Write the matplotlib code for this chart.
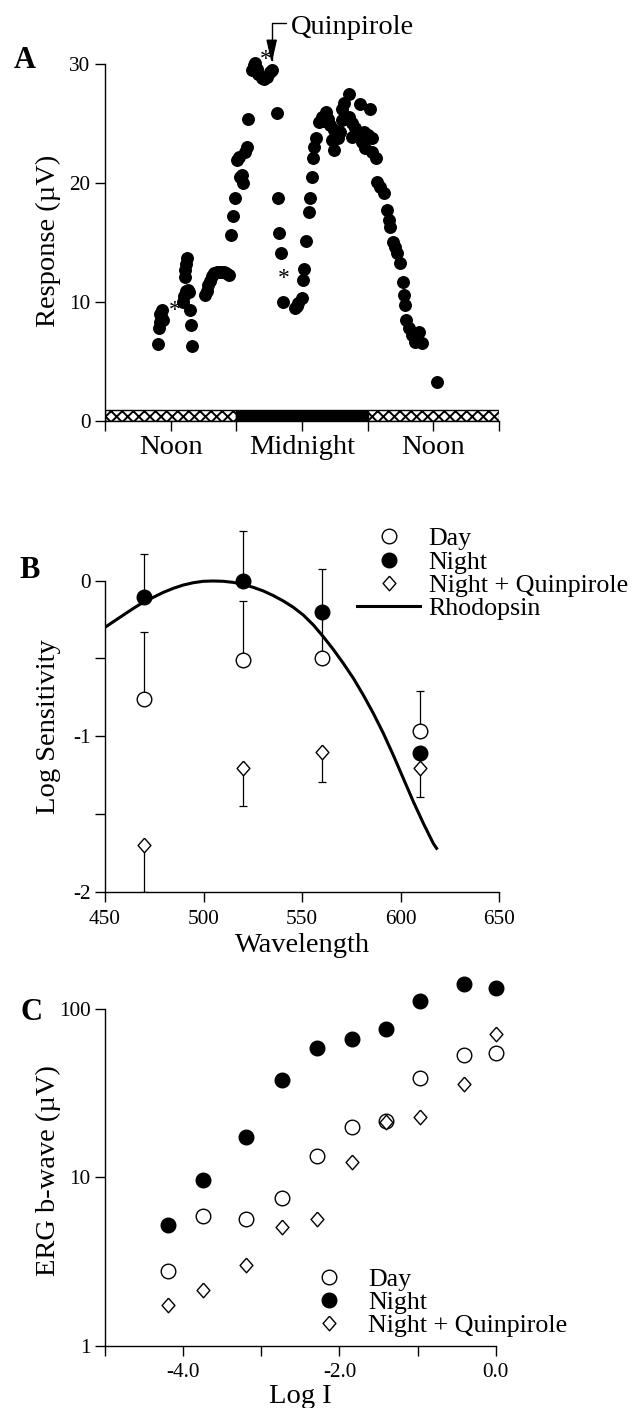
import matplotlib
matplotlib.use('Agg')
import matplotlib.pyplot as plt
from matplotlib.lines import Line2D

plt.rcParams['font.family'] = 'Liberation Serif'
plt.rcParams['axes.unicode_minus'] = False
plt.rcParams['hatch.linewidth'] = 1.4

# ---- panel A: response over the day (hours from 6 am) ----
a_hours = [4.88, 4.9, 5.0, 5.1, 5.2, 5.05, 5.3,
           7.1, 7.25, 7.4, 7.55, 7.65, 7.32, 7.35, 7.4, 7.45,
           7.77, 7.87, 7.93,
           9.15, 9.3, 9.45, 9.6, 9.76, 10.0, 10.2, 10.4, 10.6, 10.85, 11.07, 11.3,
           11.52, 11.68, 11.89, 12.04, 12.2, 12.35, 12.5, 12.65, 12.75, 12.96, 13.11,
           13.42, 13.6, 13.72, 13.85, 14.02, 14.3, 14.55, 14.8, 15.1, 15.25,
           15.7, 15.79, 15.94, 16.07, 16.25,
           17.38, 17.55, 17.68, 17.99, 18.08, 18.2, 18.38, 18.6, 18.69, 18.9,
           19.05, 19.14, 19.3, 19.51, 19.82, 20.0, 20.21, 20.4, 20.58, 20.73,
           20.88, 20.88, 21.25, 21.49, 21.65, 21.65, 21.86, 22.25, 22.25, 22.56,
           22.56, 22.86, 23.17, 23.26, 23.48, 23.63, 23.78, 24.0, 24.24, 24.39,
           24.39, 24.79, 24.85, 25.15, 25.52, 25.76, 25.91, 26.07, 26.31, 26.52,
           26.68, 26.92, 27.23, 27.28, 27.44, 27.53, 27.74, 28.05, 28.35, 28.65,
           28.96, 30.34]
a_resp = [6.47, 7.8, 8.3, 8.8, 9.3, 9.0, 8.5,
          10.0, 10.5, 10.9, 11.0, 10.8, 12.1, 12.7, 13.2, 13.7,
          9.33, 8.07, 6.30,
          10.6, 10.9, 11.4, 11.8, 12.2, 12.4, 12.5, 12.5, 12.5, 12.5, 12.4, 12.3,
          15.63, 17.23, 18.77, 21.93, 22.2, 20.53, 20.67, 19.97, 22.6, 23.05, 25.35,
          29.5, 29.9, 30.05, 29.6, 29.2, 28.8, 28.7, 28.9, 29.3, 29.5,
          25.9, 18.77, 15.83, 14.09, 10.03,
          9.47, 9.7, 9.89, 10.31, 11.85, 12.74, 15.15, 17.59, 18.77, 20.53,
          22.07, 23.05, 23.75, 25.15, 25.57, 25.2, 26.0, 25.4, 24.87, 23.61,
          24.45, 22.77, 23.75, 24.31, 25.29, 26.19, 26.7, 27.48, 25.57, 25.01,
          23.89, 24.6, 24.17, 26.64, 23.47, 24.31, 22.91, 24.03, 26.19, 23.75,
          22.63, 22.07, 20.11, 19.69, 19.13, 17.73, 16.89, 16.33, 15.07, 14.65,
          14.09, 13.25, 11.71, 10.59, 9.75, 8.49, 7.79, 7.23, 6.66, 7.51,
          6.53, 3.30]
star_hours = [6.35, 16.31, 14.65]
star_resp = [9.3, 11.99, 30.35]
light_start = [0, 12, 24]
light_len = [12, 12, 12]
light_dark = ['light', 'dark', 'light']
a_ticks = [0, 6, 12, 18, 24, 30, 36]
a_ticklabels = ['', 'Noon', '', 'Midnight', '', 'Noon', '']
quin_time = 15.23
quin_resp = 30.06

# ---- panel B: spectral sensitivity ----
wl = [470, 520, 560, 610]
day_sens = [-0.763, -0.51, -0.50, -0.965]
day_err = [0.435, 0.381, 0.30, 0.258]
night_sens = [-0.103, 0.0, -0.204, -1.106]
night_err = [0.273, 0.32, 0.277, 0.0]
quin_sens = [-1.70, -1.203, -1.104, -1.207]
quin_err = [0.30, 0.246, 0.193, 0.186]
rho_wl = [450, 454.2, 459.3, 464.4, 469.4, 474.5, 479.6, 484.7, 489.7, 494.8,
          499.9, 504.9, 510.0, 515.1, 520.2, 525.2, 530.3, 535.4, 540.5, 545.5,
          550.6, 555.7, 560.7, 565.8, 570.9, 576.0, 581.0, 586.1, 591.2, 596.2,
          601.3, 606.4, 611.5, 616.5, 618.2]
rho_sens = [-0.300, -0.264, -0.221, -0.178, -0.139, -0.107, -0.075, -0.049,
            -0.028, -0.013, -0.004, -0.002, -0.004, -0.011, -0.024, -0.043,
            -0.066, -0.096, -0.131, -0.171, -0.221, -0.285, -0.360, -0.442,
            -0.532, -0.628, -0.735, -0.853, -0.982, -1.121, -1.271, -1.421,
            -1.561, -1.689, -1.721]

# ---- panel C: intensity-response ----
log_i = [-4.19, -3.75, -3.19, -2.74, -2.29, -1.84, -1.40, -0.97, -0.41, 0.0]
c_day = [2.77, 5.9, 5.69, 7.53, 13.4, 20.0, 21.6, 39.2, 53.5, 54.5]
c_night = [5.23, 9.68, 17.4, 37.8, 59.0, 66.3, 76.0, 111, 141, 133]
c_quin = [1.76, 2.16, 3.04, 5.1, 5.68, 12.3, 21.4, 23.0, 36.1, 71.0]

W, H = 641, 1408
fig = plt.figure(figsize=(W / 100, H / 100), dpi=100)


def px_axes(left, right, top, bottom):
    return fig.add_axes([left / W, 1 - bottom / H, (right - left) / W, (bottom - top) / H])


diamond = [(0, 1), (0.88, 0), (0, -1), (-0.88, 0), (0, 1)]
TICK = 15.3
LAB = 20.5
LEG = 18.7


def style(ax):
    for s in ['top', 'right']:
        ax.spines[s].set_visible(False)
    for s in ['left', 'bottom']:
        ax.spines[s].set_linewidth(1.0)
    ax.tick_params(direction='out', length=7.5, width=1.0, labelsize=TICK, pad=3)


# panel A
axA = px_axes(105, 499, 64, 421)
style(axA)
axA.plot(a_hours, a_resp, 'o', color='black', ms=8.3, clip_on=False)
for h, r in zip(star_hours, star_resp):
    axA.text(h, r, '*', fontsize=17, ha='center', va='center', zorder=5)
for s, l, st in zip(light_start, light_len, light_dark):
    if st == 'dark':
        axA.bar(s, 0.96, width=l, align='edge', color='black', edgecolor='black', lw=1)
    else:
        axA.bar(s, 0.96, width=l, align='edge', color='white', edgecolor='black',
                hatch='xxx', lw=1)
axA.set_xlim(0, 36)
axA.set_ylim(0, 30)
axA.set_xticks(a_ticks)
axA.set_xticklabels(a_ticklabels, fontsize=LAB)
axA.tick_params(axis='x', pad=2.5)
axA.set_yticks([0, 10, 20, 30])
axA.set_ylabel('Response (\u00b5V)', fontsize=LAB)
axA.yaxis.set_label_coords(-0.111, 0.505)
axA.annotate('Quinpirole', xy=(quin_time, quin_resp), xytext=(17.0, 33.1),
             fontsize=LAB, ha='left', va='center', annotation_clip=False,
             arrowprops=dict(arrowstyle='-|>,head_length=0.7,head_width=0.16',
                             connectionstyle='angle,angleA=180,angleB=90,rad=0',
                             color='black', lw=1, relpos=(0, 0.65),
                             shrinkA=2, shrinkB=0))

# panel B
axB = px_axes(105, 499.3, 510.7, 891.7)
style(axB)
axB.plot(rho_wl, rho_sens, color='black', lw=2.2)
axB.errorbar(wl, day_sens, yerr=[[0] * 4, day_err], fmt='none', ecolor='black',
             elinewidth=0.9, capsize=3.2, capthick=0.9)
axB.errorbar(wl, night_sens, yerr=[[0] * 4, night_err], fmt='none', ecolor='black',
             elinewidth=0.9, capsize=3.2, capthick=0.9)
axB.errorbar(wl, quin_sens, yerr=[quin_err, [0] * 4], fmt='none', ecolor='black',
             elinewidth=0.9, capsize=3.2, capthick=0.9)
axB.plot(wl, day_sens, 'o', mfc='white', mec='black', mew=1, ms=10.5, ls='none')
axB.plot(wl, night_sens, 'o', color='black', ms=10.5, ls='none')
axB.plot(wl, quin_sens, marker=diamond, mfc='white', mec='black', mew=1, ms=10.5, ls='none')
axB.set_xlim(450, 650)
axB.set_ylim(-2, 0.45)
axB.spines['left'].set_bounds(-2, 0)
axB.set_xticks([450, 500, 550, 600, 650])
axB.set_yticks([0, -0.5, -1, -1.5, -2])
axB.set_yticklabels(['0', '', '-1', '', '-2'])
axB.tick_params(axis='x', pad=5.5)
axB.set_xlabel('Wavelength', fontsize=LAB, labelpad=3)
axB.set_ylabel('Log Sensitivity', fontsize=LAB)
axB.yaxis.set_label_coords(-0.111, 0.433)
hB = [Line2D([], [], marker='o', mfc='white', mec='black', mew=1, ms=10.5, ls='none'),
      Line2D([], [], marker='o', color='black', ms=10.5, ls='none'),
      Line2D([], [], marker=diamond, mfc='white', mec='black', mew=1, ms=10.5, ls='none'),
      Line2D([], [], color='black', lw=2.2)]
fig.legend(hB, ['Day', 'Night', 'Night + Quinpirole', 'Rhodopsin'], loc='upper left',
           bbox_to_anchor=(356.7 / W, 1 - 527.3 / H), frameon=False, fontsize=LEG,
           handlelength=2.45, handletextpad=0.32, labelspacing=0.0,
           borderpad=0, borderaxespad=0)

# panel C
axC = px_axes(105, 495.7, 974.6, 1346)
style(axC)
axC.set_yscale('log')
axC.plot(log_i, c_day, 'o', mfc='white', mec='black', mew=1, ms=10.5, ls='none', clip_on=False)
axC.plot(log_i, c_night, 'o', color='black', ms=10.5, ls='none', clip_on=False)
axC.plot(log_i, c_quin, marker=diamond, mfc='white', mec='black', mew=1, ms=10.5,
         ls='none', clip_on=False)
axC.set_xlim(-5, 0)
axC.set_ylim(1, 160)
axC.spines['left'].set_bounds(1, 100)
axC.set_xticks([-5, -4, -3, -2, -1, 0])
axC.set_xticklabels(['', '-4.0', '', '-2.0', '', '0.0'])
axC.set_yticks([1, 10, 100])
axC.set_yticklabels(['1', '10', '100'])
axC.minorticks_off()
axC.tick_params(axis='x', pad=4.5)
axC.set_xlabel('Log I', fontsize=LAB, labelpad=1.5)
axC.set_ylabel('ERG b-wave (\u00b5V)', fontsize=LAB)
axC.yaxis.set_label_coords(-0.112, 0.472)
hC = hB[:3]
fig.legend(hC, ['Day', 'Night', 'Night + Quinpirole'], loc='upper left',
           bbox_to_anchor=(297.3 / W, 1 - 1267.6 / H), frameon=False, fontsize=LEG,
           handlelength=2.45, handletextpad=0.27, labelspacing=0.0,
           borderpad=0, borderaxespad=0)

for letter, x, y in [('A', 25, 61), ('B', 30, 570), ('C', 32, 1013)]:
    fig.text(x / W, 1 - y / H, letter, fontsize=22, fontweight='bold',
             ha='center', va='center')

fig.savefig('out.png', dpi=100)
